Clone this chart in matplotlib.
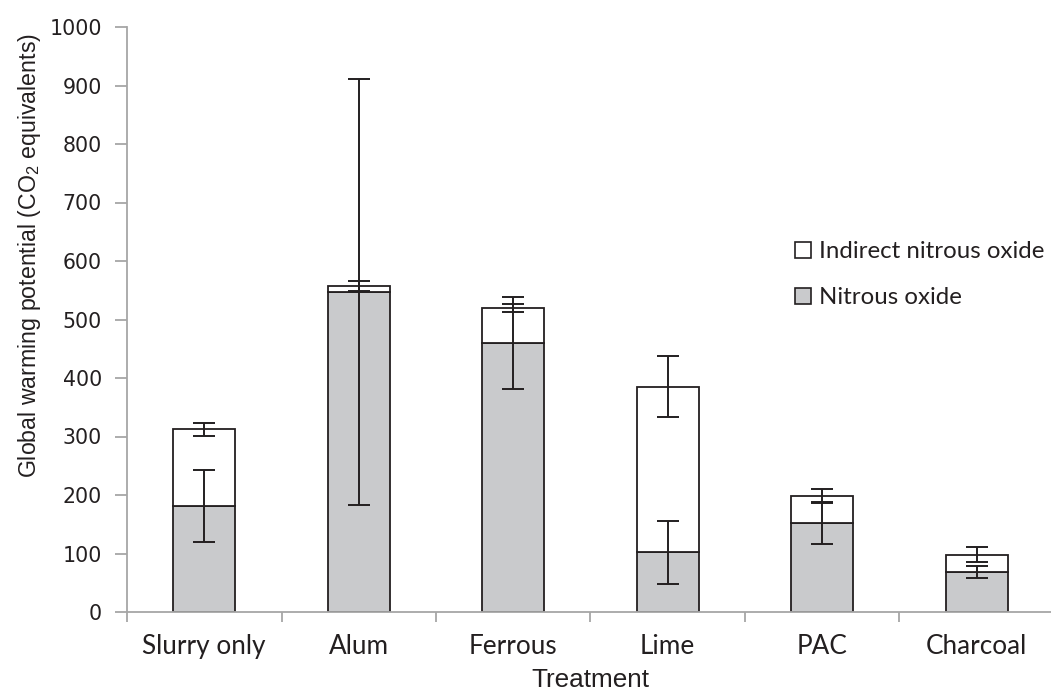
import matplotlib
matplotlib.use("Agg")
import matplotlib.pyplot as plt
from matplotlib.patches import Patch
import numpy as np

plt.rcParams['mathtext.default'] = 'regular'

categories = ['Slurry only', 'Alum', 'Ferrous', 'Lime', 'PAC', 'Charcoal']
nitrous = [181, 547, 460, 102, 152, 68]
nitrous_err = [61, 364, 79, 54, 36, 10]
indirect = [131, 10, 60, 283, 46, 30]
indirect_err = [11, 9, 7, 52, 12, 13]
yticks = [0, 100, 200, 300, 400, 500, 600, 700, 800, 900, 1000]

GRAY = '#c9cacc'
EDGE = '#231f20'
AXIS = '#a6a6a6'

fig = plt.figure(figsize=(10.51, 6.93), dpi=100)
ax = fig.add_axes([127/1051, (693-612)/693, (1054-127)/1051, (612-27)/693])

x = np.arange(len(categories))
w = 0.40
ax.bar(x, nitrous, w, color=GRAY, edgecolor=EDGE, linewidth=1.3, zorder=2)
totals = [a + b for a, b in zip(nitrous, indirect)]
ax.bar(x, indirect, w, bottom=nitrous, color='white', edgecolor=EDGE, linewidth=1.3, zorder=2)
ax.errorbar(x, nitrous, yerr=nitrous_err, fmt='none', ecolor=EDGE, elinewidth=1.4,
            capsize=8, capthick=1.4, zorder=3)
ax.errorbar(x, totals, yerr=indirect_err, fmt='none', ecolor=EDGE, elinewidth=1.4,
            capsize=8, capthick=1.4, zorder=3)

ax.set_xlim(-0.5, len(categories) - 0.5)
ax.set_ylim(0, 1000)
ax.set_yticks(yticks)
ax.set_yticklabels([str(v) for v in yticks], fontfamily='DejaVu Sans', fontsize=14.8, color='#231f20')
ax.set_xticks(x)
ax.set_xticklabels(categories, fontfamily='Lato', fontsize=18.8, color='#231f20')
ax.set_xticks(np.arange(-0.5, len(categories), 1.0), minor=True)
ax.tick_params(axis='x', which='major', length=0, pad=16)
ax.tick_params(axis='x', which='minor', length=7, width=1.3, color=AXIS, direction='out')
ax.tick_params(axis='y', length=9, width=1.3, color=AXIS, direction='out', pad=9)

for s in ['top', 'right']:
    ax.spines[s].set_visible(False)
for s in ['left', 'bottom']:
    ax.spines[s].set_color(AXIS)
    ax.spines[s].set_linewidth(1.3)

ax.set_ylabel('Global warming potential (CO$_2$ equivalents)', fontfamily='Liberation Sans',
              fontsize=16.7, color='#231f20', va='center')
ax.yaxis.set_label_coords(-(127-29)/927, (612-256)/585)
ax.set_xlabel('Treatment', fontfamily='Liberation Sans', fontsize=18.8, color='#231f20', va='center')
ax.xaxis.set_label_coords((590-127)/927, (612-680)/585)

handles = [Patch(facecolor='white', edgecolor=EDGE, linewidth=1.2, label='Indirect nitrous oxide'),
           Patch(facecolor=GRAY, edgecolor=EDGE, linewidth=1.2, label='Nitrous oxide')]
leg = ax.legend(handles=handles, loc='upper left', bbox_to_anchor=((795-127)/927, (612-241)/585),
                frameon=False, borderpad=0, borderaxespad=0, handlelength=0.65, handleheight=0.65,
                handletextpad=0.35, labelspacing=1.05, prop={'family': 'Lato', 'size': 17.3})
for t in leg.get_texts():
    t.set_color('#231f20')

fig.savefig('out.png', dpi=100)
